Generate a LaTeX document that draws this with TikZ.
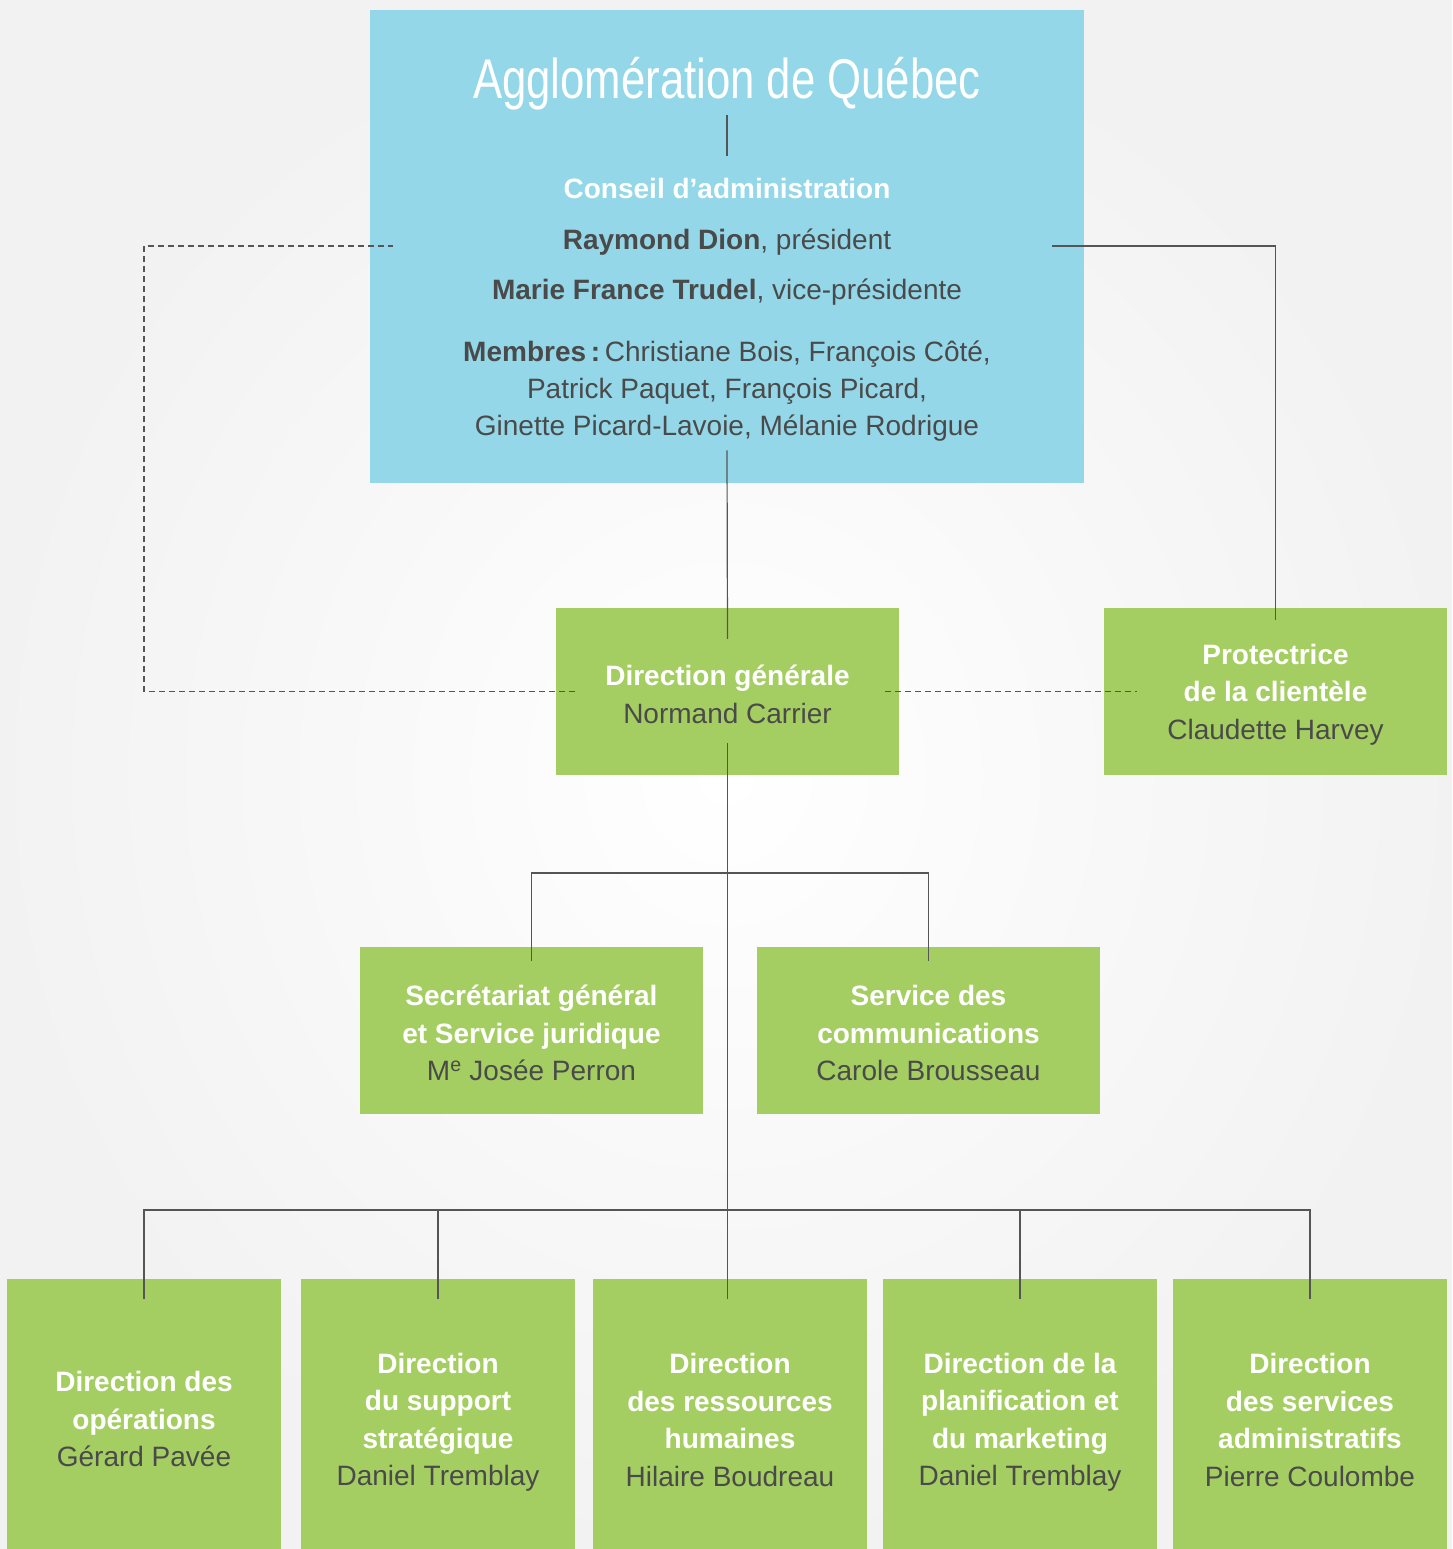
\documentclass[tikz,border=0pt]{standalone}
\usepackage{fontspec}
\setmainfont{Liberation Sans}
\newfontfamily\titlefont[FakeStretch=0.78]{Liberation Sans}
\definecolor{bluebox}{RGB}{147,215,232}
\definecolor{greenbox}{RGB}{165,206,98}
\definecolor{txtgray}{RGB}{74,74,74}
\definecolor{linegray}{RGB}{85,85,85}
\newcommand\boxhead[1]{\textcolor{white}{\bfseries #1}}
\begin{document}
\begin{tikzpicture}[x=1pt,y=-1pt,
  gbox/.style={rectangle, fill=greenbox, inner sep=0pt, align=center, text=txtgray,
    font=\fontsize{28}{37.5}\selectfont},
  smallbox/.style={gbox, minimum width=343pt, minimum height=167pt},
  lowbox/.style={gbox, minimum width=274pt, minimum height=270pt},
  btxt/.style={inner sep=0pt, anchor=base, text=txtgray, font=\fontsize{28}{37}\selectfont},
  conn/.style={draw=linegray, line width=1.2pt},
  dconn/.style={conn, dash pattern=on 6pt off 4pt}]
\shade[inner color=white, outer color=black!5] (0,0) rectangle (1452,1549);
\useasboundingbox (0,0) rectangle (1452,1549);

% top box
\node[fill=bluebox, minimum width=714pt, minimum height=473pt, inner sep=0pt, anchor=north west] (agglo) at (370,10) {};
\node[btxt, text=white, font=\titlefont\fontsize{56}{60}\selectfont] (title) at (727,99) {Agglomération de Québec};
\node[btxt, text=white, font=\bfseries\fontsize{28}{37}\selectfont] (conseil) at (727,198) {Conseil d’administration};
\node[btxt] (pres) at (727,249) {\textbf{Raymond Dion}, président};
\node[btxt] (vp) at (727,299) {\textbf{Marie France Trudel}, vice-présidente};
\node[btxt, anchor=center, align=center] (membres) at (727,391) {\textbf{Membres\,:}\,Christiane Bois, François Côté,\\Patrick Paquet, François Picard,\\Ginette Picard-Lavoie, Mélanie Rodrigue};

% second level
\node[smallbox] (dg) at (727.5,691.5) {};
\node[gbox, fill=none, align=center] (dgt) at (727.5,694.5) {\boxhead{Direction générale}\\Normand Carrier};
\node[smallbox] (prot) at (1275.5,691.5) {};
\node[gbox, fill=none] (prott) at (1275.5,694.5) {\boxhead{Protectrice}\\\boxhead{de la clientèle}\\Claudette Harvey};

% third level
\node[smallbox] (sec) at (531.5,1030) {};
\node[gbox, fill=none] (sect) at (531.5,1033) {\boxhead{Secrétariat général}\\\boxhead{et Service juridique}\\M\textsuperscript{e} Josée Perron};
\node[smallbox] (com) at (928.5,1030) {};
\node[gbox, fill=none] (comt) at (928.5,1033) {\boxhead{Service des}\\\boxhead{communications}\\Carole Brousseau};

% bottom level
\node[lowbox] (b1) at (144,1414) {};
\node[gbox, fill=none] (b1t) at (144,1419) {\boxhead{Direction des}\\\boxhead{opérations}\\Gérard Pavée};
\node[lowbox] (b2) at (438,1414) {};
\node[gbox, fill=none] (b2t) at (438,1422) {\boxhead{Direction}\\\boxhead{du support}\\\boxhead{stratégique}\\Daniel Tremblay};
\node[lowbox] (b3) at (730,1414) {};
\node[gbox, fill=none] (b3t) at (730,1420) {\boxhead{Direction}\\\boxhead{des ressources}\\\boxhead{humaines}\\Hilaire Boudreau};
\node[lowbox] (b4) at (1020,1414) {};
\node[gbox, fill=none] (b4t) at (1020,1422) {\boxhead{Direction de la}\\\boxhead{planification et}\\\boxhead{du marketing}\\Daniel Tremblay};
\node[lowbox] (b5) at (1310,1414) {};
\node[gbox, fill=none] (b5t) at (1310,1420) {\boxhead{Direction}\\\boxhead{des services}\\\boxhead{administratifs}\\Pierre Coulombe};

% helper coordinates
\coordinate (cl) at (393,246);
\coordinate (dc) at (144,246);
\coordinate (cr) at (1052,246);
\coordinate (j2) at (727,873);
\coordinate (j3) at (727,1210);

% connectors
\draw[conn] ([yshift=-4pt]title.south) -- ([yshift=22pt]conseil.north);
\draw[conn] ([yshift=-9pt]membres.south) -- ([yshift=-31pt]dg.north);
\draw[conn] (cr) -| ([yshift=-12pt]prot.north);
\draw[dconn] ([xshift=19pt]dg.west) -| (dc) -- (cl);
\draw[dconn] ([xshift=-14pt]dg.east) -- ([xshift=33pt]prot.west);
\draw[conn] ([yshift=32pt]dg.south) -- ([yshift=-20pt]dg.south |- b3.north);
\draw[conn] ([yshift=-15pt]sec.north) -- (sec.north |- j2) -- (com.north |- j2) -- ([yshift=-15pt]com.north);
\draw[conn] ([yshift=-20pt]b1.north) -- (b1.north |- j3) -- (b5.north |- j3) -- ([yshift=-20pt]b5.north);
\draw[conn] ([yshift=-20pt]b2.north) -- (b2.north |- j3);
\draw[conn] ([yshift=-20pt]b4.north) -- (b4.north |- j3);
\end{tikzpicture}
\end{document}
